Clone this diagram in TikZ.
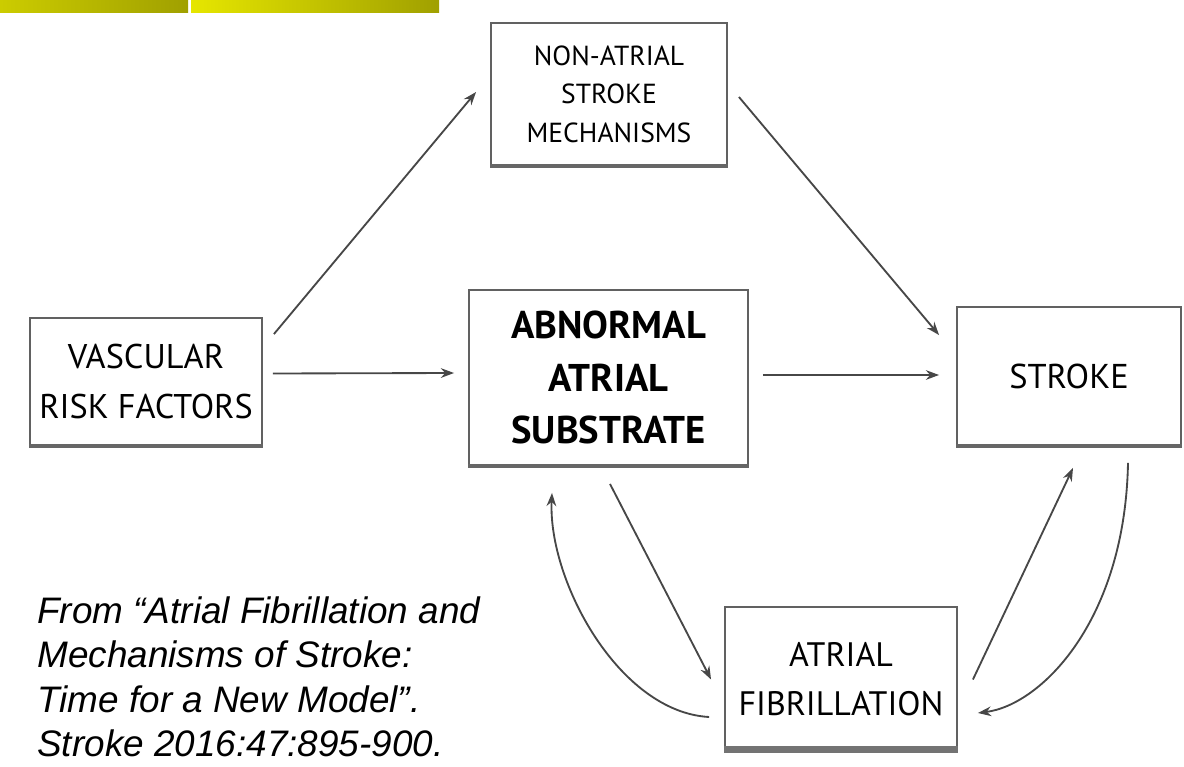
\documentclass[tikz,border=0pt]{standalone}
\usepackage{fontspec}
\setmainfont{Liberation Sans}
\newfontfamily\boxfont{PT Sans}
\usetikzlibrary{arrows.meta}

\definecolor{barlight}{RGB}{230,230,0}
\definecolor{barmid}{RGB}{204,204,0}
\definecolor{bardark}{RGB}{160,160,0}

\begin{document}
\begin{tikzpicture}[x=0.02cm, y=-0.02cm,
  box/.style={draw=black!62, line width=1.1pt, align=center, inner sep=0pt},
  arr/.style={-{Stealth[length=7.5pt,width=5.5pt]}, line width=1.05pt, draw=black!72},
  every node/.style={font=\boxfont\fontsize{19.3}{28}\selectfont}]
  \useasboundingbox (0,0) rectangle (1184,767);
  % yellow bars at top
  \shade[left color=barmid, right color=bardark] (0,0) rectangle (188,13);
  \shade[left color=barlight, right color=bardark] (191,0) rectangle (439,13);
  % boxes
  \node[box, minimum width=4.72cm, minimum height=2.84cm,
        font=\boxfont\fontsize{15.7}{22}\selectfont] (nonatrial) at (609,94)
        {NON-ATRIAL\\STROKE\\MECHANISMS};
  \node[box, minimum width=4.64cm, minimum height=2.54cm,
        font=\boxfont\fontsize{19.5}{29}\selectfont] (vascular) at (146,381.5)
        {VASCULAR\\RISK FACTORS};
  \node[box, minimum width=5.58cm, minimum height=3.5cm,
        font=\boxfont\bfseries\fontsize{22}{30}\selectfont] (substrate) at (608.5,377.5)
        {ABNORMAL\\ATRIAL\\SUBSTRATE};
  \node[box, minimum width=4.48cm, minimum height=2.76cm,
        font=\boxfont\fontsize{19.6}{28}\selectfont] (stroke) at (1069,376)
        {STROKE};
  \node[box, minimum width=4.64cm, minimum height=2.9cm] (af) at (841,679.5)
        {ATRIAL\\FIBRILLATION};
  % heavier bottom edges
  \foreach \n in {nonatrial,vascular,substrate,stroke}
    \draw[line width=1.8pt, black!60] (\n.south west) -- (\n.south east);
  \draw[line width=3.5pt, black!55] ([yshift=2]af.south west) -- ([yshift=2]af.south east);
  % straight arrows
  \draw[arr] ([shift={(11,17)}]vascular.north east) -- ([shift={(-14,-2)}]nonatrial.west);
  \draw[arr] ([shift={(11,3)}]nonatrial.east) -- ([shift={(-17,29)}]stroke.north west);
  \draw[arr] ([shift={(10,-8)}]vascular.east) -- ([shift={(-14,-4.5)}]substrate.west);
  \draw[arr] ([shift={(14,-2.5)}]substrate.east) -- ([shift={(-17,-1)}]stroke.west);
  \draw[arr] ([shift={(1.5,18)}]substrate.south) -- ([shift={(-13,0)}]af.west);
  \draw[arr] ([shift={(15,0)}]af.east) -- ([shift={(4,22)}]stroke.south);
  % curved feedback arrows
  \draw[arr] ([shift={(-15,37.5)}]af.west) .. controls +(-90,-5) and +(-4,88) .. ([shift={(-56.5,27)}]substrate.south);
  \draw[arr] ([shift={(59,17)}]stroke.south) .. controls +(-3,158) and +(63,-8) .. ([shift={(20,33.5)}]af.east);
  % source
  \node[anchor=north west, inner sep=0pt, align=left,
        font=\itshape\fontsize{21}{25.4}\selectfont] (source) at (37,596)
        {From “Atrial Fibrillation and\\Mechanisms of Stroke:\\Time for a New Model”.\\Stroke 2016:47:895-900.};
\end{tikzpicture}
\end{document}
